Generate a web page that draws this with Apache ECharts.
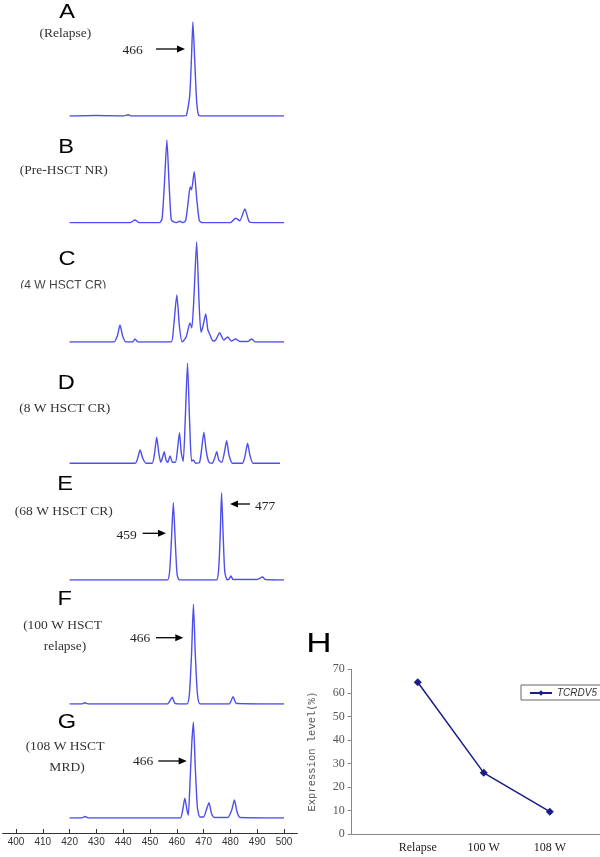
<!DOCTYPE html>
<html>
<head>
<meta charset="utf-8">
<script src="https://cdn.jsdelivr.net/npm/echarts@6/dist/echarts.min.js"></script>
<style>
html,body{margin:0;padding:0;background:#fff;}
#chart{width:600px;height:857px;}
</style>
</head>
<body>
<div id="chart"></div>
<script>
// ---- Data ----
// Fragment size (x) vs relative peak height (y, arbitrary units)
var xTicks = [400, 410, 420, 430, 440, 450, 460, 470, 480, 490, 500];

var traceA = [[420,0],[430,0.5],[440,0],[441.9,1.2],[443,0],[455,0],[462,0],[463.5,0.5],[464.8,20],[465.5,60],[466,94],[466.7,55],[467.4,15],[468.2,0.5],[470,0],[480,0],[500,0]];

var traceB = [[420,0],[435,0],[442.5,0],[444.4,2.7],[446,0],[453.5,0],[454.5,4],[455.4,40],[456.3,82.7],[457.1,40],[457.9,3],[458.7,1],[459.8,0],[461.2,1.5],[462.2,0],[463.3,2],[464.3,22],[465,36],[465.5,33],[466.5,51],[467.4,25],[468.4,2],[469.5,0],[475,0],[480,0],[482,4.5],[483.5,2],[485.4,13.7],[487,1],[489,0],[500,0]];

var traceC = [[420,0],[436.5,0],[437.8,6],[438.8,17],[439.8,6],[441,0],[443.5,0],[444.4,3],[445.5,0],[457.8,0],[458.8,15],[460,47],[461,15],[462,0],[463.5,5],[464.9,19],[465.6,14],[466.4,45],[467.4,100],[468.3,40],[469,10],[469.7,15],[470.8,28],[471.6,12],[472.4,7],[473.5,1],[474.5,2],[476,9.3],[477.5,2],[479,5],[480.3,1],[482,3],[483.5,0.5],[486.5,0.5],[488,3],[489.3,0],[500,0]];

var traceD = [[420,0],[444.5,0],[445.4,5],[446.3,13.3],[447.3,5],[448.5,0],[450.8,0],[451.7,10],[452.5,26],[453.3,10],[454,1],[454.6,5],[455.3,11.6],[456,3],[456.6,1],[457.5,7.3],[458.4,1],[459.5,1],[460.3,15],[461,30.6],[461.7,10],[462.4,2],[463.1,40],[464,100],[464.8,40],[465.5,2],[466.2,3.3],[467,0],[468.5,1],[469.3,15],[470.1,31],[471,12],[472,1],[473.2,0],[474.1,5],[474.9,11.6],[475.7,3],[476.8,1],[477.7,10],[478.6,22.6],[479.5,8],[480.8,0],[484.5,0],[485.5,8],[486.4,20],[487.3,8],[488.5,0],[498.5,0]];

var traceE = [[420,0],[440,0],[450,0],[456.5,0],[457.3,8],[458,40],[458.7,77.3],[459.4,40],[460.1,6],[461,0],[470,0],[474.8,0],[475.6,10],[476.2,45],[476.7,87.3],[477.3,45],[477.9,8],[478.8,0],[479.5,1],[480.2,4],[481,0.5],[490,0.5],[492,3],[493,0.5],[500,0]];

var traceF = [[420,0],[424.5,0],[425.7,1.3],[427,0],[445,0],[456.5,0],[457.4,3],[458.3,6.7],[459.2,1],[460.5,0],[463.8,0],[464.7,10],[465.5,50],[466.2,99.7],[466.9,50],[467.7,10],[468.7,0],[479.5,0],[481,7.3],[482.3,0.5],[500,0]];

var traceG = [[420,0],[424.5,0],[425.7,1.5],[427,0],[455,0],[461.3,0],[462.2,8],[463,19.7],[463.8,8],[464.3,3],[465,40],[465.6,75],[466.2,95.7],[466.9,50],[467.7,10],[468.6,1],[470,1],[471,8],[472,15.3],[473,4],[474,0.5],[479,0.5],[480.5,8],[481.5,18],[482.5,6],[483.6,0.5],[500,0]];

var panelLetters = ['A','B','C','D','E','F','G'];
var panelNotes = [['(Relapse)'],['(Pre-HSCT NR)'],['(4 W HSCT CR)'],['(8 W HSCT CR)'],['(68 W HSCT CR)'],['(100 W HSCT','relapse)'],['(108 W HSCT','MRD)']];

// Panel H
var hCategories = ['Relapse', '100 W', '108 W'];
var hValues = [64.5, 26, 9.5];
var hSeriesName = 'TCRDV5';

// ---- Layout ----
var traces = [traceA, traceB, traceC, traceD, traceE, traceF, traceG];
var baselines = [116, 222.7, 342, 463.3, 580, 704, 818];
var traceColor = '#3b3be8';
var pxPerUnit = 2.68, x400 = 16;

var grids = [], xAxes = [], yAxes = [], series = [];
traces.forEach(function (tr, i) {
  grids.push({left: x400 - 5 * pxPerUnit, width: 110 * pxPerUnit, top: baselines[i] - 100, height: 100, containLabel: false, outerBoundsMode: 'none'});
  var last = (i === traces.length - 1);
  xAxes.push({
    type: 'value', gridIndex: i, min: 395, max: 505, show: last, position: 'bottom',
    offset: last ? 15 : 0,
    splitLine: {show: false},
    axisLine: {show: true, onZero: false, lineStyle: {color: '#333', width: 1}},
    axisTick: {show: true, inside: true, length: 4, customValues: xTicks, lineStyle: {color: '#333'}},
    axisLabel: {show: true, customValues: xTicks, margin: 4, color: '#333', fontSize: 10, fontFamily: 'Liberation Sans'}
  });
  yAxes.push({type: 'value', gridIndex: i, min: 0, max: 100, show: false, splitLine: {show: false}});
  series.push({
    type: 'line', xAxisIndex: i, yAxisIndex: i, data: tr, symbol: 'none', silent: true,
    smooth: 0.2,
    lineStyle: {color: traceColor, width: 1.4, opacity: 0.9}, animation: false
  });
});

// Panel H grid
var hIdx = traces.length;
grids.push({left: 351.7, right: 0, top: 669.3, height: 164.7, containLabel: false, outerBoundsMode: 'none'});
xAxes.push({
  type: 'value', gridIndex: hIdx, min: 0, max: 3.76,
  splitLine: {show: false},
  axisLine: {show: true, onZero: false, lineStyle: {color: '#888'}},
  axisTick: {show: false},
  axisLabel: {
    customValues: [1, 2, 3], margin: 8, color: '#222', fontSize: 12,
    fontFamily: 'Liberation Serif',
    formatter: function (v) { return hCategories[Math.round(v) - 1] || ''; }
  }
});
yAxes.push({
  type: 'value', gridIndex: hIdx, min: 0, max: 70, interval: 10,
  splitLine: {show: false},
  axisLine: {show: true, lineStyle: {color: '#888'}},
  axisTick: {show: true, length: 4, lineStyle: {color: '#888'}},
  axisLabel: {color: '#555', fontSize: 12, margin: 7, fontFamily: 'Liberation Serif'},
  name: 'Expression level(%)', nameLocation: 'middle', nameRotate: 90, nameGap: 34,
  nameTextStyle: {color: '#555', fontSize: 10.5, fontFamily: 'Liberation Mono'}
});
series.push({
  name: hSeriesName, type: 'line', xAxisIndex: hIdx, yAxisIndex: hIdx,
  data: hValues.map(function (v, i) { return [i + 1, v]; }),
  symbol: 'diamond', symbolSize: 8,
  itemStyle: {color: '#1c1c88'},
  lineStyle: {color: '#1c1c88', width: 1.5},
  animation: false
});

// ---- Annotations (text + arrows) ----
var graphics = [];
var letterPos = [[67,12.5],[66.2,147],[67,259],[66.2,383],[65,484],[64.7,599.7],[67,722.5]];
panelLetters.forEach(function (L, i) {
  graphics.push({type: 'text', x: letterPos[i][0], y: letterPos[i][1], scaleX: 1.18,
    style: {text: L, font: '20px "Liberation Sans"', fill: '#000', textAlign: 'center', textVerticalAlign: 'middle'}});
});
var notePos = [[[65.3,33]],[[63.8,170]],[[63.3,286]],[[64.7,408]],[[63.8,511]],[[62.5,625],[65,646]],[[65,746],[67,767]]];
panelNotes.forEach(function (lines, i) {
  lines.forEach(function (t, j) {
    var sans = (i === 2);
    graphics.push({type: 'text', x: notePos[i][j][0], y: notePos[i][j][1],
      style: {text: t, font: sans ? '12px "Liberation Sans"' : '13.5px "Liberation Serif"', fill: sans ? '#444' : '#333', textAlign: 'center', textVerticalAlign: 'middle'}});
  });
});
// clip the lower part of the C note, as in the reference
graphics.push({type: 'rect', shape: {x: 10, y: 288.5, width: 110, height: 6}, style: {fill: '#fff'}, z: 10});

function arrow(x1, x2, y) {
  var dir = x2 > x1 ? 1 : -1;
  graphics.push({type: 'line', shape: {x1: x1, y1: y, x2: x2 - dir * 5, y2: y}, style: {stroke: '#000', lineWidth: 1.3}});
  graphics.push({type: 'polygon', shape: {points: [[x2, y], [x2 - dir * 8, y - 3.5], [x2 - dir * 8, y + 3.5]]}, style: {fill: '#000'}});
}
function label(t, x, y) {
  graphics.push({type: 'text', x: x, y: y, style: {text: t, font: '13.5px "Liberation Serif"', fill: '#222', textAlign: 'center', textVerticalAlign: 'middle'}});
}
label('466', 132.7, 50);   arrow(156, 185, 49);
label('459', 126.7, 535);  arrow(142.7, 166, 533.3);
label('477', 265, 506.7);  arrow(250, 230, 504);
label('466', 140, 638.3);  arrow(156, 183.3, 637.7);
label('466', 143, 761);    arrow(158.3, 186.7, 761);
// Panel H letter
graphics.push({type: 'text', x: 319, y: 645, scaleX: 1.3,
  style: {text: 'H', font: '27px "Liberation Sans"', fill: '#000', textAlign: 'center', textVerticalAlign: 'middle'}});

var chart = echarts.init(document.getElementById('chart'), null, {renderer: 'canvas'});
chart.setOption({
  animation: false,
  backgroundColor: '#fff',
  grid: grids,
  xAxis: xAxes,
  yAxis: yAxes,
  series: series,
  legend: {
    data: [hSeriesName], left: 521, top: 685, orient: 'horizontal',
    borderColor: '#666', borderWidth: 1, padding: [3, 4, 2, 8],
    itemWidth: 22, itemHeight: 7, itemGap: 5,
    textStyle: {fontStyle: 'italic', fontSize: 10, color: '#333', fontFamily: 'Liberation Sans'}
  },
  graphic: graphics
});
</script>
</body>
</html>
